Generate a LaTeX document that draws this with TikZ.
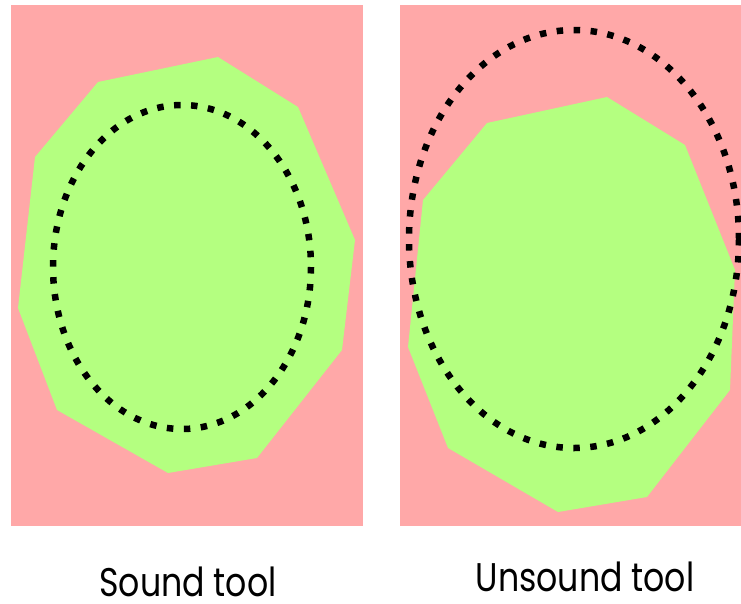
\documentclass[tikz,border=0pt]{standalone}
\usepackage{fontspec}
\setmainfont{Poppins}
\definecolor{bgpink}{RGB}{255,168,168}
\definecolor{okgreen}{RGB}{180,255,128}
\begin{document}
\begin{tikzpicture}[x=1pt,y=-1pt,
  panel/.style={fill=bgpink,draw=none},
  region/.style={fill=okgreen,draw=none},
  approx/.style={draw=black,line width=6.5pt,dash pattern=on 6.5pt off 10.5pt},
  caption/.style={font=\fontsize{40}{44}\selectfont,inner sep=0pt,anchor=base,text depth=0pt,xscale=0.83}]
\useasboundingbox (0,0) rectangle (741,603);
\fill[white] (0,0) rectangle (741,603);
% left panel
\path[panel] (11,5) rectangle (363,526);
\path[region] (98,82) -- (218,57) -- (298,107) -- (355,240) -- (342,350) -- (257,458) -- (168,473) -- (57,410) -- (18,308) -- (35,157) -- cycle;
\draw[approx] (182,267) ellipse [x radius=129, y radius=162];
% right panel
\path[panel] (400,5) rectangle (741,526);
\path[region] (487,123) -- (607,97) -- (685,145) -- (735,270) -- (730,390) -- (647,497) -- (558,512) -- (448,448) -- (408,347) -- (423,200) -- cycle;
\draw[approx] (574,239) ellipse [x radius=165, y radius=209];
% captions
\node[caption] (s) at (188,596) {Sound tool};
\node[caption] (u) at (585,591) {Unsound tool};
\end{tikzpicture}
\end{document}
